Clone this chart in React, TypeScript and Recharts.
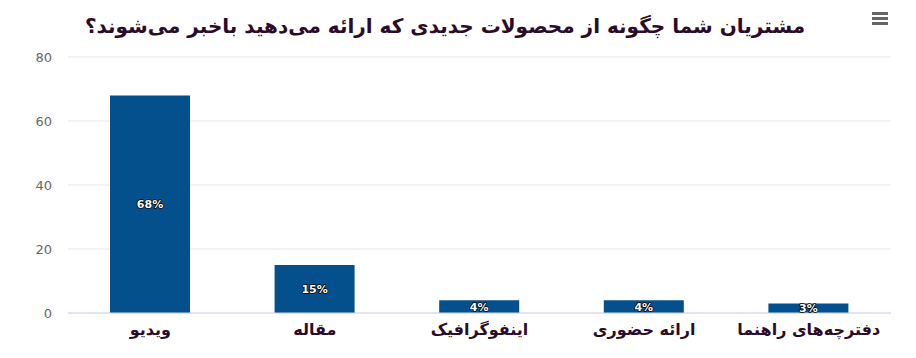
import React from "react";
import { BarChart, Bar, XAxis, YAxis, CartesianGrid, LabelList } from "recharts";

const categories = ["ویدیو", "مقاله", "اینفوگرافیک", "ارائه حضوری", "دفترچه‌های راهنما"];
const values = [68, 15, 4, 4, 3];
const yTicks = [0, 20, 40, 60, 80];
const title = "مشتریان شما چگونه از محصولات جدیدی که ارائه می‌دهید باخبر می‌شوند؟";

const data = categories.map((c, i) => ({ name: c, value: values[i] }));

const FONT = "'DejaVu Sans', sans-serif";

const XTick = (props: any) => {
  const { x, y, payload } = props;
  return (
    <text x={x} y={y} dy={14} textAnchor="middle" fontFamily={FONT} fontSize={16} fontWeight="bold" fill="#2a0c2a">
      {payload.value}
    </text>
  );
};

const ValueLabel = (props: any) => {
  const { x, y, width, height, value } = props;
  const cx = x + width / 2;
  const cy = y + height / 2;
  return (
    <text x={cx} y={cy} dy={4} textAnchor="middle" fontFamily={FONT} fontSize={11} fontWeight="bold"
      fill="#ffffff" stroke="#000000" strokeWidth={1.5} paintOrder="stroke" strokeLinejoin="round">
      {value + "%"}
    </text>
  );
};

export default function App() {
  return (
    <div style={{ position: "absolute", left: 0, top: 0, width: 916, height: 358, background: "#fff" }}>
      <div style={{ position: "absolute", left: 0, top: 0, width: 916, height: 358 }}>
        <BarChart width={916} height={358} data={data} margin={{ top: 57, right: 25, bottom: 15, left: 0 }}>
          <text x={445} y={33} textAnchor="middle" fontFamily={FONT} fontSize={20} fontWeight="bold" fill="#2a0c2a">
            {title}
          </text>
          <CartesianGrid horizontal vertical={false} stroke="#e6e6e6" />
          <XAxis dataKey="name" height={30} tick={<XTick />} tickLine={false} axisLine={{ stroke: "#ccd6eb" }} interval={0} />
          <YAxis width={68} domain={[0, 80]} ticks={yTicks} tickLine={false} axisLine={false} tickSize={0} tickMargin={16}
            tick={{ fill: "#666666", fontSize: 13, fontFamily: FONT }} />
          <Bar dataKey="value" fill="#03508c" isAnimationActive={false} barSize={80}>
            <LabelList dataKey="value" content={<ValueLabel />} />
          </Bar>
        </BarChart>
      </div>
      <div style={{ position: "absolute", left: 872, top: 12 }}>
        {[0, 1, 2].map((i) => (
          <div key={i} style={{ width: 16, height: 2.5, background: "#666", marginBottom: 2.5 }} />
        ))}
      </div>
    </div>
  );
}
